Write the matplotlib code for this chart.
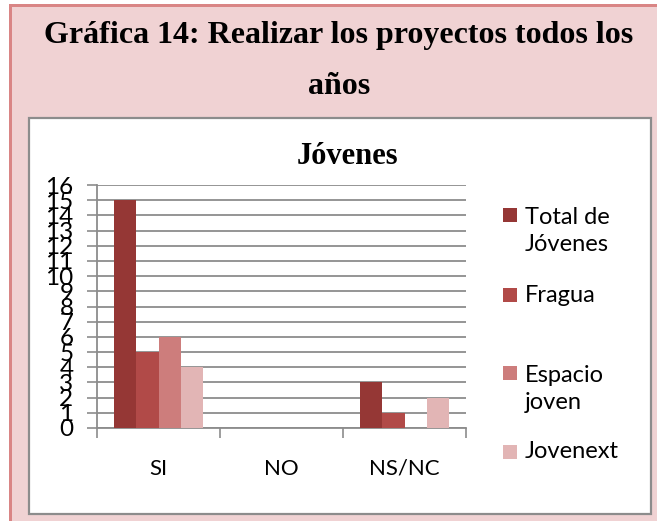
"""Bar chart: Gráfica 14 - Realizar los proyectos todos los años (Jóvenes)."""

import matplotlib as mpl
import matplotlib.pyplot as plt
import numpy as np
from matplotlib.patches import Rectangle

CATEGORIES = ["SI", "NO", "NS/NC"]
SERIES_NAMES = ["Total de\nJóvenes", "Fragua", "Espacio\njoven", "Jovenext"]
TOTAL = [15, 0, 3]
FRAGUA = [5, 0, 1]
ESPACIO = [6, 0, 0]
JOVENEXT = [4, 0, 2]
Y_TICKS = list(range(0, 17))

COLORS = ["#953735", "#b14a48", "#cd7d7c", "#e2b5b5"]
PINK_BG = "#f0d2d3"
PINK_BORDER = "#d98585"
GRID = "#8c8c8c"
SANS = ["Lato", "DejaVu Sans"]
SERIF = ["Liberation Serif", "DejaVu Serif"]

W, H = 657, 521


def px(x, y):
    return x / W, 1 - y / H


mpl.rcParams.update({"font.family": SANS, "axes.unicode_minus": False})

fig = plt.figure(figsize=(W / 100, H / 100), dpi=100)
fig.patch.set_facecolor("white")

# outer pink frame (cut off at right and bottom)
fig.patches.append(
    Rectangle(px(10, H), (W - 10) / W, (H - 5) / H, transform=fig.transFigure,
              facecolor=PINK_BG, edgecolor="none", zorder=0)
)
fig.patches.append(
    Rectangle(px(9, H), 3 / W, (H - 5) / H, transform=fig.transFigure,
              facecolor=PINK_BORDER, edgecolor="none", zorder=1)
)
fig.patches.append(
    Rectangle(px(9, 7), (W - 9) / W, 2.5 / H, transform=fig.transFigure,
              facecolor=PINK_BORDER, edgecolor="none", zorder=1)
)
# white chart area
fig.patches.append(
    Rectangle(px(29, 514), (651 - 29) / W, (514 - 118) / H, transform=fig.transFigure,
              facecolor="white", edgecolor="#8c8c8c", linewidth=1.6, zorder=2)
)

fig.text(*px(339, 35), "Gráfica 14: Realizar los proyectos todos los", family=SERIF,
         fontsize=23, fontweight="bold", ha="center", va="center")
fig.text(*px(339, 87), "años", family=SERIF, fontsize=23, fontweight="bold",
         ha="center", va="center")

left, bottom = px(97, 428)
right, top = px(466, 185)
ax = fig.add_axes([left, bottom, right - left, top - bottom])
ax.set_facecolor("none")
ax.set_zorder(3)

series = [TOTAL, FRAGUA, ESPACIO, JOVENEXT]
x = np.arange(len(CATEGORIES))
bar_w = 1 / 5.5
for i, (values, color) in enumerate(zip(series, COLORS)):
    ax.bar(x + (i - 1.5) * bar_w, values, width=bar_w, color=color,
           edgecolor="none", zorder=3)

ax.set_xlim(-0.5, len(CATEGORIES) - 0.5)
ax.set_ylim(0, 16)
ax.set_yticks(Y_TICKS)
ax.set_yticklabels([str(t) for t in Y_TICKS], fontsize=17.5)
ax.yaxis.grid(True, color=GRID, linewidth=1.3, zorder=0)
ax.set_axisbelow(True)
ax.tick_params(axis="y", length=7, width=1.2, color=GRID, pad=10)

ax.set_xticks(x)
ax.set_xticklabels(CATEGORIES, fontsize=16)
ax.set_xticks(np.arange(-0.5, len(CATEGORIES)), minor=True)
ax.tick_params(axis="x", which="major", length=0, pad=22)
ax.tick_params(axis="x", which="minor", length=7, width=1.2, color=GRID)

for name in ["top", "right"]:
    ax.spines[name].set_visible(False)
for name in ["left", "bottom"]:
    ax.spines[name].set_color(GRID)
    ax.spines[name].set_linewidth(1.3)

fig.text(*px(347, 156), "Jóvenes", family=SERIF, fontsize=22, fontweight="bold",
         ha="center", va="center")

# legend drawn by hand to match layout
legend_rows = [231, 295, 389, 452]
for name, color, ycen in zip(SERIES_NAMES, COLORS, legend_rows):
    first_line_y = ycen - (16 if "\n" in name else 0)
    fig.patches.append(
        Rectangle(px(503, first_line_y + 7), 14 / W, 14 / H, transform=fig.transFigure,
                  facecolor=color, edgecolor="none", zorder=4)
    )
    fig.text(*px(525, ycen), name, fontsize=17, ha="left", va="center",
             linespacing=1.35, zorder=4)

fig.savefig("out.png", dpi=100)
